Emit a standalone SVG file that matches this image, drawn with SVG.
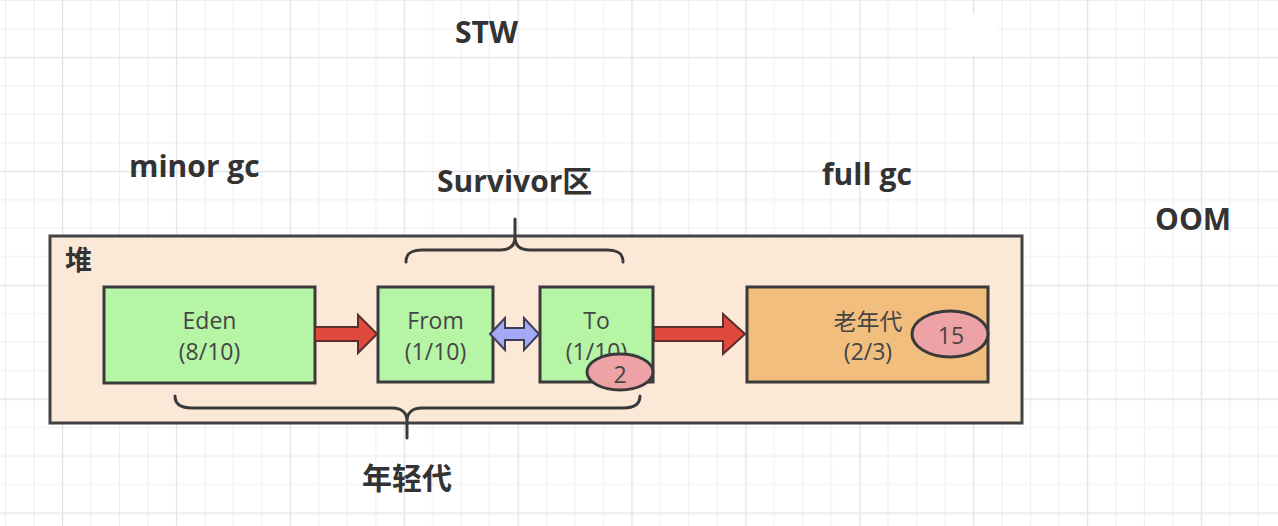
<svg xmlns="http://www.w3.org/2000/svg" width="1278" height="526" viewBox="0 0 1278 526">
  <defs>
    <pattern id="grid" patternUnits="userSpaceOnUse" x="5.06" y="0" width="113.88" height="113.88">
      <rect x="0" y="0" width="1" height="113.88" fill="#eeeef1"/>
      <rect x="28.47" y="0" width="1" height="113.88" fill="#eeeef1"/>
      <rect x="85.41" y="0" width="1" height="113.88" fill="#eeeef1"/>
      <rect x="0" y="0" width="113.88" height="1" fill="#eeeef1"/>
      <rect x="0" y="28.47" width="113.88" height="1" fill="#eeeef1"/>
      <rect x="0" y="85.41" width="113.88" height="1" fill="#eeeef1"/>
      <rect x="56.94" y="0" width="1.3" height="113.88" fill="#e3e3e8"/>
      <rect x="0" y="56.94" width="113.88" height="1.3" fill="#e3e3e8"/>
    </pattern>
  </defs>
  <style>
    .lbl { font-family: "Open Sans", "Noto Sans CJK SC", sans-serif; font-weight: bold; font-size: 30px; fill: #333333; }
    .cjk { font-family: "Noto Sans CJK SC", "Noto Sans", sans-serif; font-weight: bold; fill: #333333; }
    .box { stroke: #3a3a3a; stroke-width: 3; }
    .young { fill: #b6f4a6; }
    .old { fill: #f2be7e; }
    .heap { fill: #fbe8d6; stroke: #424242; stroke-width: 3; }
    .txt { font-family: "Open Sans", "Noto Sans CJK SC", sans-serif; font-size: 23px; fill: #454545; text-anchor: middle; }
    .txtc { font-family: "Noto Sans CJK SC", "Open Sans", sans-serif; font-size: 23px; fill: #454545; text-anchor: middle; }
    .age { fill: #eda3a5; stroke: #3a3a3a; stroke-width: 3; }
    .red { fill: #e04a3e; stroke: #5a2e2a; stroke-width: 2; stroke-linejoin: miter; }
    .blue { fill: #a3a9f6; stroke: #3d3d55; stroke-width: 2; }
    .brace { fill: none; stroke: #3a3a3a; stroke-width: 3; stroke-linecap: round; }
  </style>

  <rect x="0" y="0" width="1278" height="526" fill="#ffffff"/>
  <rect x="0" y="0" width="1278" height="526" fill="url(#grid)"/>
  <rect x="951" y="14" width="46" height="42" rx="12" fill="#ffffff"/>

  <g id="label-stw"><text class="lbl" x="455" y="43">STW</text></g>
  <g id="label-minor-gc"><text class="lbl" x="129" y="177">minor gc</text></g>
  <g id="label-survivor"><text class="lbl" x="437" y="192">Survivor区</text></g>
  <g id="label-full-gc"><text class="lbl" x="822" y="185">full gc</text></g>
  <g id="label-oom"><text class="lbl" x="1155" y="230">OOM</text></g>

  <g id="heap">
    <rect class="heap" x="50" y="236" width="972" height="187"/>
    <text class="cjk" x="65" y="270" font-size="27">堆</text>
  </g>

  <g id="eden">
    <rect class="box young" x="104" y="287" width="211" height="96"/>
    <text class="txt" x="209.5" y="329">Eden</text>
    <text class="txt" x="209.5" y="360">(8/10)</text>
  </g>

  <g id="from">
    <rect class="box young" x="378" y="287" width="115" height="95"/>
    <text class="txt" x="435.5" y="329">From</text>
    <text class="txt" x="435.5" y="360">(1/10)</text>
  </g>

  <g id="to">
    <rect class="box young" x="540" y="287" width="113" height="95"/>
    <text class="txt" x="596.5" y="329">To</text>
    <text class="txt" x="596.5" y="360">(1/10)</text>
  </g>

  <g id="old-gen">
    <rect class="box old" x="747" y="287" width="241" height="95"/>
    <text class="txtc" x="868" y="330">老年代</text>
    <text class="txt" x="868" y="360">(2/3)</text>
  </g>

  <g id="age-2">
    <ellipse class="age" cx="620" cy="372" rx="33" ry="18"/>
    <text class="txt" x="620" y="383">2</text>
  </g>

  <g id="age-15">
    <ellipse class="age" cx="950" cy="334" rx="38" ry="23"/>
    <text class="txt" x="951" y="344">15</text>
  </g>

  <g id="connectors">
    <polygon class="red" points="315,327 358,327 358,315 377,334 358,353 358,341 315,341"/>
    <polygon class="red" points="654,327 723,327 723,314 745,334 723,354 723,341 654,341"/>
    <polygon class="blue" points="490,334 505,318 505,328 524,328 524,318 539,334 524,350 524,340 505,340 505,350"/>
  </g>

  <g id="braces">
    <path class="brace" d="M406,262 C406,254 410,250 422,250 L500,250 C510,250 515,246 515,237 L515,219 M515,237 C515,246 520,250 530,250 L607,250 C619,250 623,254 623,262"/>
    <path class="brace" d="M175,396 C175,404 180,408 192,408 L392,408 C402,408 407,413 407,421 L407,438 M407,421 C407,413 412,408 422,408 L623,408 C635,408 640,404 640,396"/>
  </g>

  <g id="label-young-gen"><text class="cjk" x="362" y="489" font-size="30">年轻代</text></g>
</svg>
